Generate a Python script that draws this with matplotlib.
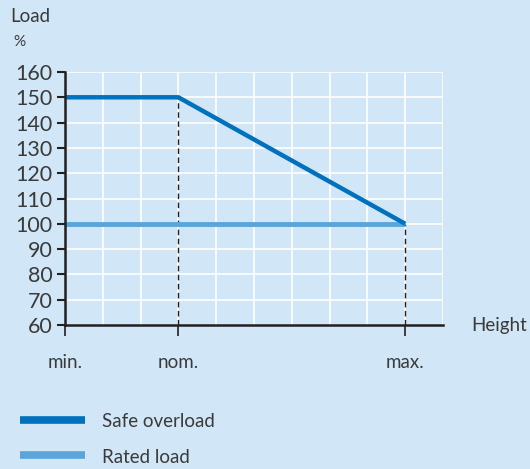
import matplotlib.pyplot as plt

# Data
height_pos = [0, 3, 9]
height_labels = ["min.", "nom.", "max."]
safe_overload = [150, 150, 100]
rated_x = [0, 9]
rated_load = [100, 100]
y_ticks = list(range(60, 161, 10))

bg = "#d1e7f7"
dark_blue = "#0071bc"
light_blue = "#5aa6da"
text_col = "#3a3a3a"

plt.rcParams["font.family"] = ["Lato", "DejaVu Sans"]

fig = plt.figure(figsize=(5.3, 4.69), dpi=100, facecolor=bg)
ax = fig.add_axes([65 / 530, 1 - 325 / 469, 378 / 530, 253 / 469])
ax.set_facecolor(bg)

ax.set_xlim(0, 10)
ax.set_ylim(60, 160)

# grid
for gx in range(1, 11):
    ax.axvline(gx, color="white", lw=1.2, zorder=1)
for gy in y_ticks[1:]:
    ax.axhline(gy, color="white", lw=1.2, zorder=1)

# dashed guides
ax.plot([3, 3], [60, 150], color="#231f20", lw=1, ls=(0, (4, 2.5)), zorder=2)
ax.plot([9, 9], [60, 100], color="#231f20", lw=1, ls=(0, (4, 2.5)), zorder=2)

ax.plot(rated_x, rated_load, color=light_blue, lw=3.5, solid_capstyle="butt", zorder=3)
ax.plot(height_pos, safe_overload, color=dark_blue, lw=3.2, solid_capstyle="butt", zorder=4)

for s in ["top", "right"]:
    ax.spines[s].set_visible(False)
for s in ["left", "bottom"]:
    ax.spines[s].set_color("#231f20")
    ax.spines[s].set_linewidth(1.8)
    ax.spines[s].set_zorder(5)

ax.set_yticks(y_ticks)
ax.set_yticklabels([str(v) for v in y_ticks])
ax.set_xticks(height_pos)
ax.set_xticklabels(height_labels)
ax.tick_params(axis="y", direction="out", length=6, width=1.5, color="#231f20",
               labelsize=15.5, labelcolor=text_col, pad=3)
ax.tick_params(axis="x", direction="out", length=8, width=1.2, color="#231f20",
               labelsize=13.5, labelcolor=text_col, pad=13)

fig.text(10 / 530, 1 - 16 / 469, "Load", fontsize=13.5, color=text_col, va="center")
fig.text(13 / 530, 1 - 42 / 469, "%", fontsize=11, color=text_col, va="center")
fig.text(471 / 530, 1 - 326 / 469, "Height", fontsize=13.5, color=text_col, va="center")

# legend
fig.add_artist(plt.Line2D([20 / 530, 85 / 530], [1 - 420 / 469] * 2, color=dark_blue, lw=5.5, solid_capstyle="butt"))
fig.add_artist(plt.Line2D([20 / 530, 85 / 530], [1 - 455 / 469] * 2, color=light_blue, lw=5.5, solid_capstyle="butt"))
fig.text(102 / 530, 1 - 421 / 469, "Safe overload", fontsize=13.5, color=text_col, va="center")
fig.text(102 / 530, 1 - 457 / 469, "Rated load", fontsize=13.5, color=text_col, va="center")

fig.savefig("out.png", dpi=100, facecolor=bg)
